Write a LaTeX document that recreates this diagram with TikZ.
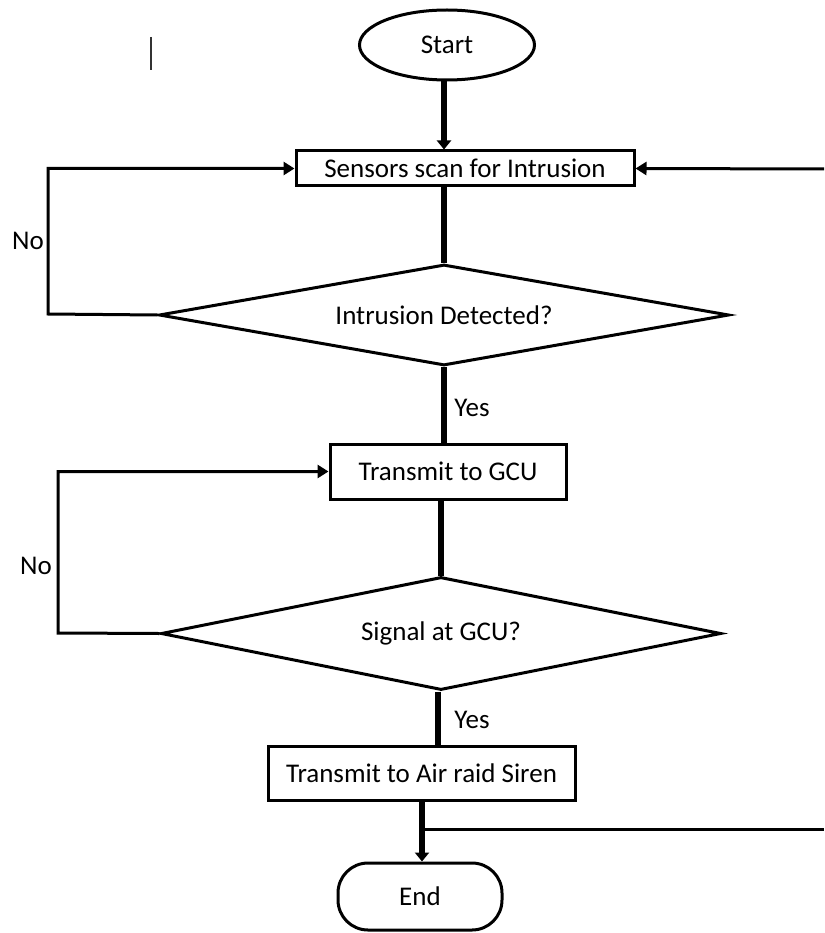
\documentclass[tikz,border=0pt]{standalone}
\usepackage{fontspec}
\setmainfont{Carlito}
\usetikzlibrary{shapes.geometric,arrows.meta}
\begin{document}
\begin{tikzpicture}[x=1pt,y=-1pt,
  every node/.style={font=\fontsize{27}{32}\selectfont},
  box/.style={draw,line width=3pt,rectangle,inner sep=0pt},
  term/.style={draw,line width=3pt,ellipse,inner sep=0pt},
  endterm/.style={draw,line width=3pt,rectangle,rounded corners=30pt,inner sep=0pt},
  dec/.style={draw,line width=3pt,diamond,inner sep=0pt,aspect=5.6},
  thickarrow/.style={line width=6pt,-{Triangle[width=14pt,length=9pt]}},
  thinarrow/.style={line width=3pt,-{Triangle[width=13pt,length=11pt]}},
  thinline/.style={line width=3pt},
  thickline/.style={line width=6pt},
  lbl/.style={inner sep=0pt}
]
\useasboundingbox (0,0) rectangle (824,933);
% cursor mark
\coordinate (c1) at (151,37);
\coordinate (c2) at (151,70);
\draw[line width=1.3pt,black!80] (c1) -- (c2);

\node[term,minimum width=175pt,minimum height=70pt] (start) at (447,45) {Start};
\node[box,minimum width=338pt,minimum height=35pt] (sensors) at (465,168.5) {Sensors scan for Intrusion};
\node[dec,minimum width=570pt,minimum height=101pt] (d1) at (444,315) {Intrusion Detected?};
\node[box,minimum width=236pt,minimum height=55pt] (gcu) at (448,471.5) {Transmit to GCU};
\node[dec,minimum width=560pt,minimum height=113pt] (d2) at (441,633.5) {Signal at GCU?};
\node[box,minimum width=307pt,minimum height=54pt] (siren) at (421.5,773) {Transmit to Air raid Siren};
\node[endterm,minimum width=164pt,minimum height=67pt] (end) at (420,896.5) {End};

% main flow
\draw[thickarrow] (start.south -| d1.north) -- (sensors.north -| d1.north);
\draw[thickline] (sensors.south -| d1.north) -- (d1.north);
\draw[thickline] (d1.south) -- (gcu.north -| d1.south);
\draw[thickline] (gcu.south -| d2.north) -- (d2.north);
\draw[thickline] (d2.south -| 438,0) -- (siren.north -| 438,0);
\draw[thickarrow] (siren.south -| 422,0) -- (end.north -| 422,0);

% No loops
\coordinate (n1) at (48,314);
\draw[thinarrow] (d1.west) -- (n1) |- (sensors.west);
\coordinate (n2) at (58,633);
\draw[thinarrow] (d2.west) -- (n2) |- (gcu.west);

% right-hand return
\coordinate (rin) at (824,169);
\draw[thinarrow] (rin) -- (sensors.east);
\coordinate (j) at (422,829);
\coordinate (rout) at (824,829);
\draw[thinline] (j) -- (rout);

% labels
\node[lbl] (no1) at (28,241) {No};
\node[lbl] (no2) at (36,566) {No};
\node[lbl] (yes1) at (472,408) {Yes};
\node[lbl] (yes2) at (472,720) {Yes};
\end{tikzpicture}
\end{document}
